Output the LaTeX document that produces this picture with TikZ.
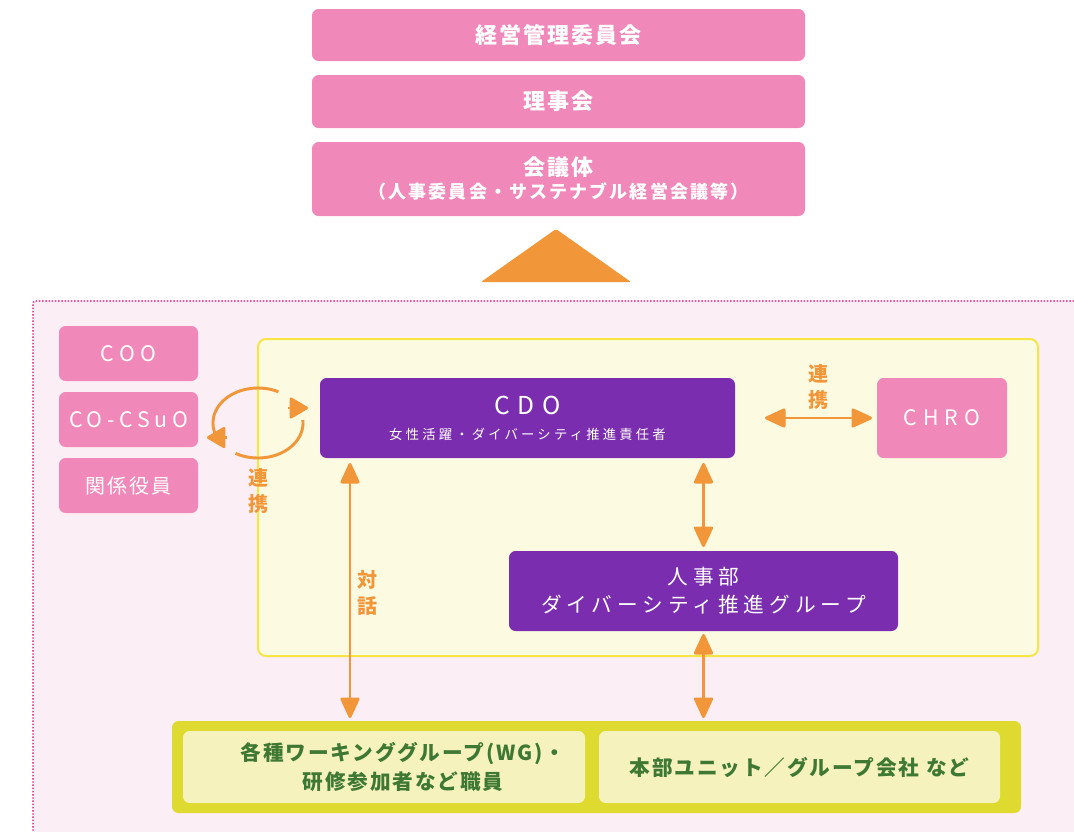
\documentclass[tikz,border=0pt]{standalone}
\usepackage{fontspec}
\setmainfont{Noto Sans CJK JP}
\usetikzlibrary{arrows.meta,calc}
\definecolor{pk}{HTML}{F088B9}
\definecolor{pu}{HTML}{7B2DAF}
\definecolor{og}{HTML}{F2963A}
\definecolor{pbg}{HTML}{FCEEF5}
\definecolor{pdot}{HTML}{E8559A}
\definecolor{ybg}{HTML}{FDFAE2}
\definecolor{yln}{HTML}{F5E646}
\definecolor{olv}{HTML}{DEDA30}
\definecolor{crm}{HTML}{F5F2BE}
\definecolor{grn}{HTML}{3E7832}
\newcommand\fsz[2]{\fontsize{#1pt}{#2pt}\selectfont}
\begin{document}
\begin{tikzpicture}[x=0.75pt,y=-0.75pt,
  sz/.style 2 args={minimum width=#1*0.75pt, minimum height=#2*0.75pt},
  pkbox/.style={fill=pk, rounded corners=5pt, inner sep=0pt, outer sep=0pt, text=white, align=center},
  pubox/.style={fill=pu, rounded corners=5pt, inner sep=0pt, outer sep=0pt, text=white, align=center},
  crmbox/.style={fill=crm, rounded corners=5pt, inner sep=0pt, outer sep=0pt, text=grn, align=center},
  arr/.style={draw=og, line width=2.2pt, {Triangle[length=17pt,width=15pt,round]}-{Triangle[length=17pt,width=15pt,round]}},
  lbl/.style={text=og, font=\bfseries\fsz{15}{19.5}, align=center, inner sep=0pt},
  grtext/.style={text=grn, font=\bfseries\fsz{15.5}{21.75}\addfontfeature{LetterSpace=9}, align=center, inner sep=0pt}
]
\useasboundingbox[fill=white] (0,0) rectangle (1074,832);

% top stack
\node[pkbox, sz={493}{52}, font=\bfseries\fsz{16.5}{20}\addfontfeature{LetterSpace=9}] (keiei) at (558.5,35) {経営管理委員会};
\node[pkbox, sz={493}{53}, font=\bfseries\fsz{16.5}{20}\addfontfeature{LetterSpace=9}] (rijikai) at (558.5,101.5) {理事会};
\node[pkbox, sz={493}{74}, font=\bfseries\fsz{13.5}{17.25}] (kaigi) at (558.5,179)
  {{\fsz{16.5}{17.25}\addfontfeature{LetterSpace=9}会議体}\\{\addfontfeature{LetterSpace=12}（人事委員会・サステナブル経営会議等）}};
\fill[og, rounded corners=1pt] (556,229) -- (631,282) -- (481,282) -- cycle;

% pink region
\fill[pbg] (33,301) rectangle (1074,832);
\draw[pdot, line width=1.3pt, dash pattern=on 1.1pt off 1.3pt, rounded corners=2pt] (1074,301) -- (33,301) -- (33,832);

% left boxes
\node[pkbox, sz={139}{55}, font=\fsz{16}{19}\addfontfeature{LetterSpace=25}] (coo) at (128.5,353.5) {COO};
\node[pkbox, sz={139}{55}, font=\fsz{16}{19}\addfontfeature{LetterSpace=22}] (cocsuo) at (128.5,419.5) {CO-CSuO};
\node[pkbox, sz={139}{55}, font=\fsz{15}{19}\addfontfeature{LetterSpace=10}] (kankei) at (128.5,485.5) {関係役員};

% yellow region
\node[draw=yln, fill=ybg, line width=1.5pt, rounded corners=6pt, inner sep=0pt, sz={780}{317}] (core) at (648,497.5) {};

% CDO, CHRO, HR
\node[pubox, sz={415}{80}, font=\fsz{10}{18.75}] (cdo) at (527.5,418)
  {{\fsz{18.5}{18.75}\addfontfeature{LetterSpace=30}CDO}\\{\addfontfeature{LetterSpace=24}女性活躍・ダイバーシティ推進責任者}};
\node[pkbox, sz={130}{80}, font=\fsz{16}{19}\addfontfeature{LetterSpace=28}] (chro) at (942,418) {CHRO};
\node[pubox, sz={389}{80}, font=\fsz{15.5}{21}\addfontfeature{LetterSpace=24}] (hr) at (703.5,591)
  {人事部\\ダイバーシティ推進グループ};

% bottom
\node[fill=olv, rounded corners=5pt, inner sep=0pt, outer sep=0pt, sz={849}{92}] (bottom) at (596.5,767) {};
\node[crmbox, sz={402}{72}] (wg) at (384,767) {};
\node[grtext] (wgtext) at (403,767) {各種ワーキンググループ(WG)・\\研修参加者など職員};
\node[crmbox, sz={401}{72}, font=\bfseries\fsz{15.5}{20}\addfontfeature{LetterSpace=9}] (unit) at (799.5,767) {本部ユニット／グループ会社 など};

% connectors
\draw[arr] ($(cdo.east)+(30,0)$) -- ($(chro.west)+(-5,0)$);
\draw[arr] ($(cdo.south -| hr.north)+(0,5)$) -- ($(hr.north)+(0,-4)$);
\draw[arr] ($(hr.south)+(0,3)$) -- ($(hr.south |- bottom.north)+(0,-3)$);
\draw[arr] ($(cdo.south west)+(30,5)$) -- ($(cdo.south west |- bottom.north)+(30,-3)$);

% loop between CO-CSuO and CDO
\coordinate (loopc) at (258,423);
\draw[og, line width=2.2pt, domain=163:297, samples=40, smooth, variable=\t]
  plot ({258+45*cos(\t)}, {423+35*sin(\t)});
\draw[og, line width=2.2pt, domain=-5:120, samples=40, smooth, variable=\t]
  plot ({258+45*cos(\t)}, {423+35*sin(\t)});
\coordinate (tipA) at ($(cdo.west)+(-12,-10)$);
\coordinate (tipB) at ($(cocsuo.east)+(9,18)$);
\draw[og, line width=2.2pt, -{Triangle[length=15pt,width=17pt,round]}] ($(tipA)+(-20,0)$) -- (tipA);
\draw[og, line width=2.2pt, -{Triangle[length=15pt,width=17pt,round]}] ($(tipB)+(20,0)$) -- (tipB);

% labels
\node[lbl] (lblchro) at (818,387) {連\\携};
\node[lbl] (lbltaiwa) at (367,593) {対\\話};
\node[lbl] (lblloop) at (258,491) {連\\携};
\end{tikzpicture}
\end{document}
